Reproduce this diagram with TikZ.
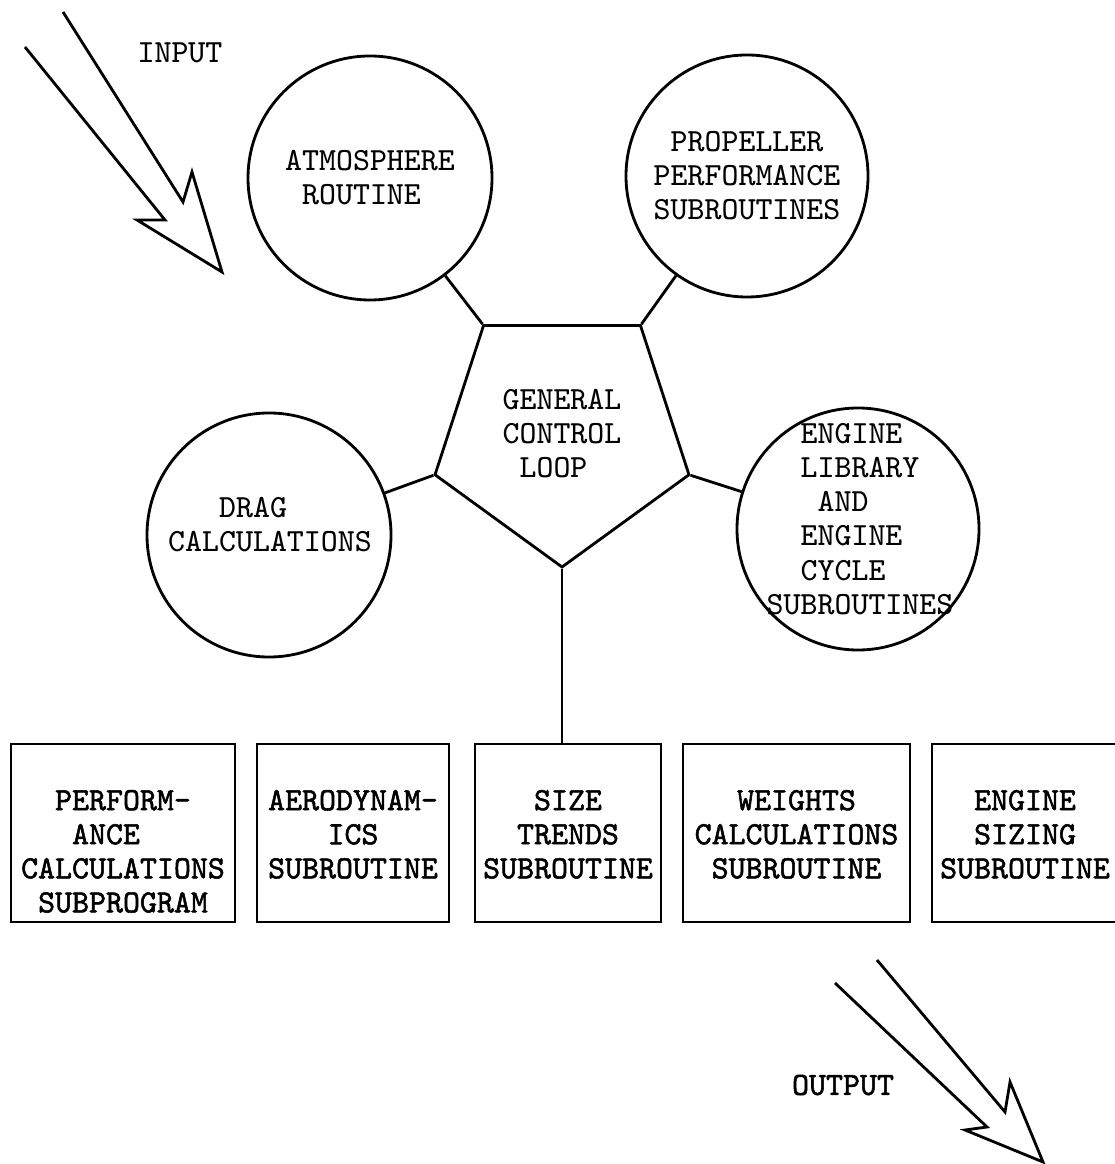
\documentclass[tikz,border=0pt]{standalone}
\usepackage{fontspec}
\newfontfamily\darktt{lmmono10-regular}[Extension=.otf, FakeBold=1.6]
\usetikzlibrary{shapes.geometric,positioning}

\begin{document}
\begin{tikzpicture}[line width=0.8pt,
	every node/.style={inner sep=0pt, font=\ttfamily\fontsize{9.2pt}{9.7pt}\selectfont},
	routine/.style={draw, circle, minimum size=2.44cm, align=left},
	subbox/.style={draw, rectangle, minimum height=1.78cm},
	boxtext/.style={align=center, anchor=north, font=\darktt\bfseries\fontsize{9.2pt}{9.7pt}\selectfont},
	bigarrow/.style={line join=miter}]
	\useasboundingbox (0,0) rectangle (11.15,-11.64);
	\node (input) at (1.80,-0.53) {INPUT};
	\draw[bigarrow] (0.25,-0.47) -- (1.65,-2.20) -- (1.37,-2.20) -- (2.22,-2.72) -- (1.92,-1.72) -- (1.83,-2.02) -- (0.63,-0.12);
	\node[routine] (atmos) at (3.70,-1.78) {ATMOSPHERE\\\phantom{X}ROUTINE};
	\node[routine, minimum size=2.42cm, align=center] (prop) at (7.47,-1.76) {PROPELLER\\PERFORMANCE\\SUBROUTINES};
	\node[routine] (drag) at (2.69,-5.35) {};
	\node[align=left] (dragtxt) at (2.70,-5.25) {\phantom{XXX}DRAG\\CALCULATIONS};
	\node[routine, minimum size=2.42cm] (engine) at (8.58,-5.29) {};
	\node[align=left] (enginetxt) at (8.60,-5.19) {\phantom{XX}ENGINE\\\phantom{XX}LIBRARY\\\phantom{XXX}AND\\\phantom{XX}ENGINE\\\phantom{XX}CYCLE\\SUBROUTINES};
	\node[draw, regular polygon, regular polygon sides=5, shape border rotate=180, minimum size=2.67cm, align=left] (loop) at (5.62,-4.335) {GENERAL\\CONTROL\\\phantom{X}LOOP};
	\draw (atmos) -- (loop.corner 4);
	\draw (prop) -- (loop.corner 3);
	\draw (drag) -- (loop.corner 5);
	\draw (engine) -- (loop.corner 2);
	\node[subbox, minimum width=2.24cm] (perf) at (1.23,-8.33) {};
	\node[subbox, minimum width=1.92cm] (aero) at (3.53,-8.33) {};
	\node[subbox, minimum width=1.86cm] (size) at (5.68,-8.33) {};
	\node[subbox, minimum width=2.27cm] (wts) at (7.965,-8.33) {};
	\node[subbox, minimum width=1.86cm] (engsz) at (10.25,-8.33) {};
	\draw (loop.corner 1) -- (loop.corner 1 |- size.north);
	\node[boxtext, align=left] (perftxt) at ([yshift=-0.46cm]perf.north) {\phantom{XX}PERFORM-\\\phantom{XXX}ANCE\\CALCULATIONS\\\phantom{X}SUBPROGRAM};
	\node[boxtext] (aerotxt) at ([yshift=-0.46cm]aero.north) {AERODYNAM-\\ICS\\SUBROUTINE};
	\node[boxtext] (sizetxt) at ([yshift=-0.46cm]size.north) {SIZE\\TRENDS\\SUBROUTINE};
	\node[boxtext] (wtstxt) at ([yshift=-0.46cm]wts.north) {WEIGHTS\\CALCULATIONS\\SUBROUTINE};
	\node[boxtext] (engsztxt) at ([yshift=-0.46cm]engsz.north) {ENGINE\\SIZING\\SUBROUTINE};
	\node[font=\darktt\bfseries\fontsize{9.2pt}{9.7pt}\selectfont] (output) at (8.43,-10.85) {OUTPUT};
	\draw[bigarrow] (8.35,-9.83) -- (9.87,-11.27) -- (9.65,-11.30) -- (10.43,-11.62) -- (10.10,-10.82) -- (10.05,-11.12) -- (8.77,-9.60);
\end{tikzpicture}
\end{document}
